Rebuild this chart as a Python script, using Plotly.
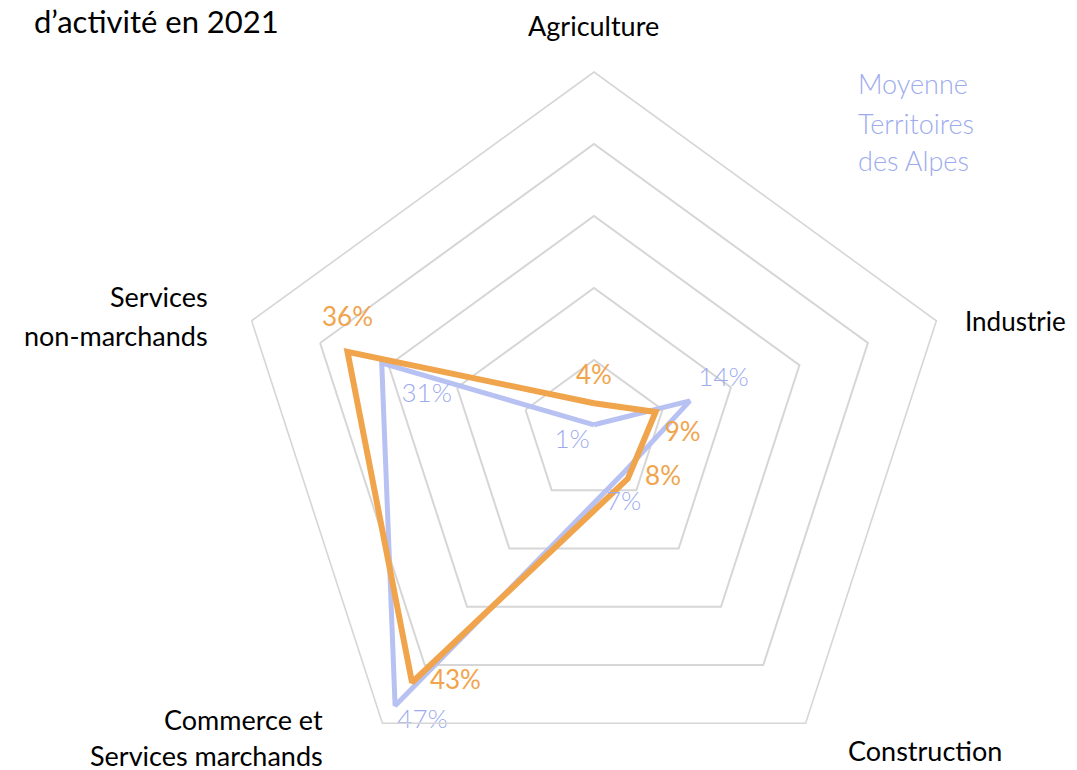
import plotly.graph_objs as go

# secteurs, dans le sens horaire depuis le haut
secteurs = ["Agriculture", "Industrie", "Construction",
            "Commerce et Services marchands", "Services non-marchands"]
territoire = [4, 9, 8, 43, 36]
moyenne_alpes = [1, 14, 7, 47, 31]

# placement des étiquettes de valeurs (taille du marqueur invisible = écart)
pos_territoire = ["top center", "bottom right", "middle right", "middle right", "top center"]
ecart_territoire = [18, 13, 26, 27, 30]
pos_moyenne = ["bottom left", "top right", "bottom center", "bottom right", "bottom right"]
ecart_moyenne = [5, 12, 27, 2, 30]

ORANGE = "#F0A44C"
LAVANDE = "#B7C1F2"
LAVANDE_TXT = "#9DABEE"
GRILLE = "#D6D6D6"
FONT = "Lato"

W, H = 1069, 792
OFF = 8  # marge par défaut du <body>


def px(x, y):
    return (x - OFF) / W, 1 - (y - OFF) / H


def closed(v):
    return list(v) + [v[0]]


fig = go.Figure()

fig.add_trace(go.Scatterpolar(
    r=closed(moyenne_alpes), theta=closed(secteurs), mode="lines",
    line=dict(color=LAVANDE, width=5), hoverinfo="skip", showlegend=False))
fig.add_trace(go.Scatterpolar(
    r=closed(territoire), theta=closed(secteurs), mode="lines",
    line=dict(color=ORANGE, width=6), hoverinfo="skip", showlegend=False))

# étiquettes de valeurs
fig.add_trace(go.Scatterpolar(
    r=moyenne_alpes, theta=secteurs, mode="markers+text",
    marker=dict(size=ecart_moyenne, color="rgba(0,0,0,0)", line=dict(width=0)),
    text=[f"{v}%" for v in moyenne_alpes], textposition=pos_moyenne,
    textfont=dict(family=FONT, size=26, color=LAVANDE_TXT, weight=300),
    hoverinfo="skip", cliponaxis=False, showlegend=False))
fig.add_trace(go.Scatterpolar(
    r=territoire, theta=secteurs, mode="markers+text",
    marker=dict(size=ecart_territoire, color="rgba(0,0,0,0)", line=dict(width=0)),
    text=[f"{v}%" for v in territoire], textposition=pos_territoire,
    textfont=dict(family=FONT, size=26, color=ORANGE, weight=400),
    hoverinfo="skip", cliponaxis=False, showlegend=False))

x0, y1 = px(234, 72)
x1, y0 = px(954, 792)
fig.update_layout(
    width=W, height=H,
    margin=dict(l=0, r=0, t=0, b=0),
    paper_bgcolor="white",
    font=dict(family=FONT, color="black"),
    polar=dict(
        domain=dict(x=[x0, x1], y=[y0, y1]),
        bgcolor="white",
        gridshape="linear",
        radialaxis=dict(range=[0, 50], dtick=10, showticklabels=False, ticks="",
                        showline=False, gridcolor=GRILLE, gridwidth=1.6),
        angularaxis=dict(rotation=90, direction="clockwise", showticklabels=False,
                         ticks="", showgrid=False, showline=True,
                         linecolor=GRILLE, linewidth=1.6),
    ),
)

# (texte, x, y, ancrage, taille, couleur, graisse) en pixels de la page
labels = [
    ("d’activité en 2021", 32, 21, "left", 31, "black", 400),
    ("Agriculture", 593, 26, "center", 27, "black", 400),
    ("Industrie", 963, 321, "left", 26, "black", 400),
    ("Construction", 846, 750, "left", 27, "black", 400),
    ("Services", 210, 296, "right", 27, "black", 400),
    ("non-marchands", 210, 335, "right", 27, "black", 400),
    ("Commerce et", 325, 719, "right", 27, "black", 400),
    ("Services marchands", 325, 755, "right", 27, "black", 400),
    ("Moyenne", 856, 84, "left", 27, LAVANDE_TXT, 300),
    ("Territoires", 856, 123, "left", 27, LAVANDE_TXT, 300),
    ("des Alpes", 856, 161, "left", 27, LAVANDE_TXT, 300),
]
for txt, x, y, anchor, size, color, weight in labels:
    ax, ay = px(x, y)
    fig.add_annotation(text=txt, x=ax, y=ay, xref="paper", yref="paper",
                       xanchor=anchor, yanchor="middle", align=anchor,
                       showarrow=False,
                       font=dict(family=FONT, size=size, color=color, weight=weight))

fig.write_html("out.html")
